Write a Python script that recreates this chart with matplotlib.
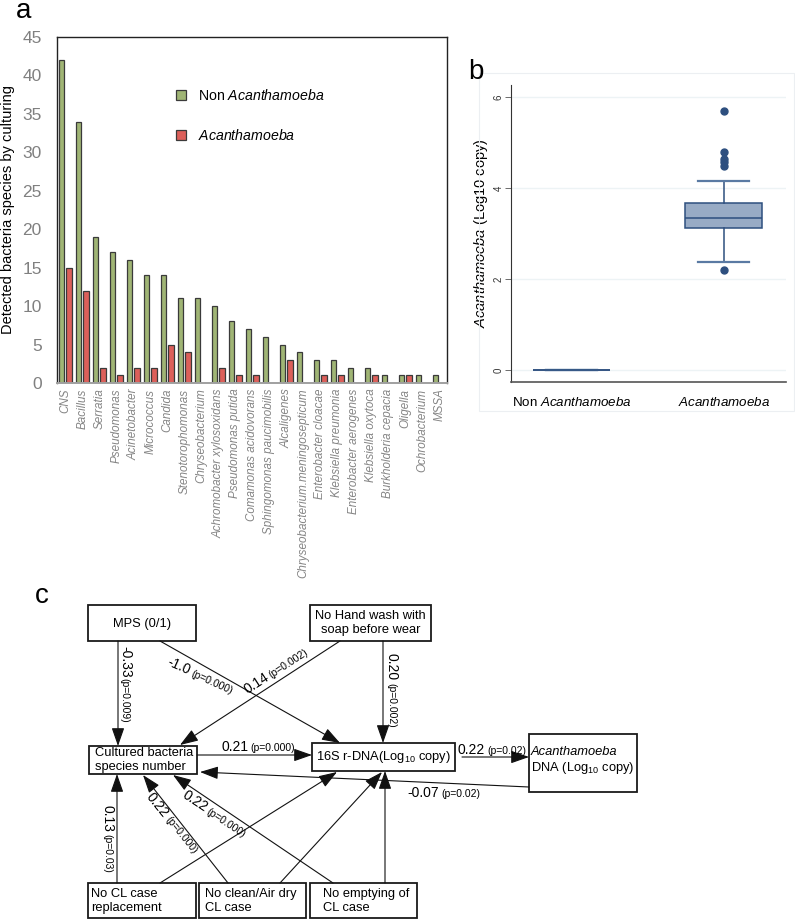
"""Three-panel figure: culture counts (a), Acanthamoeba load (b), path diagram (c)."""
import math

import matplotlib
matplotlib.use("Agg")
import matplotlib.pyplot as plt
import numpy as np
from matplotlib.lines import Line2D
from matplotlib.patches import Rectangle

plt.rcParams["font.family"] = ["Liberation Sans", "DejaVu Sans"]
plt.rcParams["mathtext.fontset"] = "custom"
plt.rcParams["mathtext.rm"] = "Liberation Sans"
plt.rcParams["mathtext.it"] = "Liberation Sans:italic"
plt.rcParams["mathtext.bf"] = "Liberation Sans:bold"

# ---- panel a data -------------------------------------------------------
species = ["CNS", "Bacillus", "Serratia", "Pseudomonas", "Acinetobacter",
           "Micrococcus", "Candida", "Stenotorophomonas", "Chryseobacterium",
           "Achromobacter xylosoxidans", "Pseudomonas putida",
           "Comamonas acidovorans", "Sphingomonas paucimobilis", "Alcaligenes",
           "Chryseobacterium.meningosepticum", "Enterobacter cloacae",
           "Klebsiella preumonia", "Enterobacter aerogenes", "Klebsiella oxytoca",
           "Burkholderia cepacia", "Oligella", "Ochrobacterium", "MSSA"]
non_acan = [42, 34, 19, 17, 16, 14, 14, 11, 11, 10, 8, 7, 6, 5, 4, 3, 3, 2, 2, 1, 1, 1, 1]
acan = [15, 12, 2, 1, 2, 2, 5, 4, 0, 2, 1, 1, 0, 3, 0, 1, 1, 0, 1, 0, 1, 0, 0]
a_yticks = [0, 5, 10, 15, 20, 25, 30, 35, 40, 45]

# ---- panel b data (box statistics, log10 copy) --------------------------
b_groups = ["Non $\\mathit{Acanthamoeba}$", "$\\mathit{Acanthamoeba}$"]
b_med = [0.0, 3.33]
b_q1 = [0.0, 3.13]
b_q3 = [0.0, 3.66]
b_whislo = [0.0, 2.38]
b_whishi = [0.0, 4.15]
b_fliers = [[], [5.70, 4.78, 4.63, 4.56, 4.49, 2.20]]
b_yticks = [0, 2, 4, 6]

# ---- panel c: path coefficients ------------------------------------------
coefs = ["-0.33", "-1.0", "0.14", "0.20", "0.21", "0.22", "-0.07", "0.13", "0.22", "0.22"]
pvals = ["(p=0.009)", "(p=0.000)", "(p=0.002)", "(p=0.002)", "(p=0.000)",
         "(p=0.02)", "(p=0.02)", "(p=0.03)", "(p=0.000)", "(p=0.000)"]

GREEN = "#a0b575"
RED = "#dc5f5a"
EDGE = "#3a3a3a"
BOXFILL = "#98abc5"
BOXEDGE = "#2d4f7f"

W, H = 795, 921
fig = plt.figure(figsize=(W / 100, H / 100), dpi=100)


def px_axes(l, t, r, b):
    return fig.add_axes([l / W, 1 - b / H, (r - l) / W, (b - t) / H])


# ======================= panel a ==========================================
axa = px_axes(57, 37, 447, 383)
x = np.arange(len(species))
non_arr = np.array(non_acan, dtype=float)
acan_arr = np.array(acan, dtype=float)
axa.bar(x - 0.22, np.where(non_arr > 0, non_arr, np.nan), width=0.335,
        color=GREEN, edgecolor=EDGE, linewidth=0.9)
axa.bar(x + 0.22, np.where(acan_arr > 0, acan_arr, np.nan), width=0.335,
        color=RED, edgecolor=EDGE, linewidth=0.9)
axa.set_xlim(-0.485, len(species) - 1 + 0.456)
axa.set_ylim(0, 45)
axa.set_yticks(a_yticks)
axa.tick_params(axis="y", length=0, pad=11, labelsize=12.5, labelcolor="#808080")
axa.set_xticks(x)
axa.set_xticklabels(species, rotation=90, fontstyle="italic", fontsize=8.4,
                    color="#858585")
axa.tick_params(axis="x", length=0, pad=4)
for side in ("top", "left", "right"):
    axa.spines[side].set_color("#222222")
    axa.spines[side].set_linewidth(1.0)
axa.spines["bottom"].set_color("#a0a0a0")
axa.spines["bottom"].set_linewidth(1.4)
axa.set_ylabel("Detected bacteria species by culturing", fontsize=10.5)
axa.yaxis.set_label_coords((15 - 57) / 390, 0.5)

handles = [Line2D([], [], marker="s", ls="none", mfc=GREEN, mec=EDGE, ms=7, mew=0.9),
           Line2D([], [], marker="s", ls="none", mfc=RED, mec=EDGE, ms=7, mew=0.9)]
axa.legend(handles, b_groups, loc="upper left", frameon=False, fontsize=10.2,
           bbox_to_anchor=((174 - 57) / 390, (383 - 88) / 346), borderpad=0,
           borderaxespad=0, handlelength=1.0, handletextpad=0.7, labelspacing=1.75)

# ======================= panel b ==========================================
fig.add_artist(Rectangle((479 / W, 1 - 411 / H), (794 - 479) / W, (411 - 73) / H,
                         transform=fig.transFigure, fill=False,
                         edgecolor="#eceff2", linewidth=0.8))
axb = px_axes(511, 85, 786, 382)
stats = []
for i in range(len(b_groups)):
    stats.append(dict(med=b_med[i], q1=b_q1[i], q3=b_q3[i], whislo=b_whislo[i],
                      whishi=b_whishi[i], fliers=b_fliers[i]))
axb.bxp(stats, positions=[0, 1], widths=0.507, capwidths=0.336, patch_artist=True,
        boxprops=dict(facecolor=BOXFILL, edgecolor=BOXEDGE, linewidth=1.1),
        medianprops=dict(color=BOXEDGE, linewidth=1.1),
        whiskerprops=dict(color=BOXEDGE, linewidth=1.1),
        capprops=dict(color="#5a7aa3", linewidth=1.6),
        flierprops=dict(marker="o", markerfacecolor=BOXEDGE, markeredgecolor=BOXEDGE,
                        markersize=5))
axb.set_xlim(-0.40, 1.41)
axb.set_ylim(-0.26, 6.26)
axb.set_yticks(b_yticks)
axb.set_yticklabels([str(v) for v in b_yticks], rotation=90, va="center")
axb.tick_params(axis="y", length=4, width=0.6, pad=1.5, labelsize=7,
                color="#555555", labelcolor="#333333")
axb.set_xticks([0, 1])
axb.set_xticklabels(b_groups, fontsize=9.6)
axb.tick_params(axis="x", length=0, pad=10)
for v in b_yticks:
    axb.axhline(v, color="#edf3f5", linewidth=1.0, zorder=0)
axb.spines["top"].set_visible(False)
axb.spines["right"].set_visible(False)
axb.spines["left"].set_color("#333333")
axb.spines["bottom"].set_color("#555555")
axb.spines["bottom"].set_linewidth(1.2)
axb.set_ylabel("$\\mathit{Acanthamoeba}$ (Log10 copy)", fontsize=10.5)
axb.yaxis.set_label_coords((490 - 511) / 275, 0.5)

# ======================= panel c ==========================================
axc = px_axes(0, 580, 795, 921)
axc.set_xlim(0, W)
axc.set_ylim(921, 580)
axc.axis("off")

box_fs = 9.3
boxes = {
    "mps": (88, 605, 196, 641),
    "hand": (310, 605, 431, 641),
    "cult": (89, 746, 197, 774),
    "rdna": (312, 743, 455, 771),
    "acan": (529, 734, 637, 792),
    "repl": (88, 883, 196, 918),
    "dry": (199, 883, 306, 918),
    "empty": (310, 883, 417, 918),
}
for l, t, r, b in boxes.values():
    axc.add_patch(Rectangle((l, t), r - l, b - t, fill=False, edgecolor="#1a1a1a",
                            linewidth=1.3))

axc.text(142, 624, "MPS (0/1)", ha="center", va="center", fontsize=box_fs)
axc.text(370.5, 623, "No Hand wash with\nsoap before wear", ha="center",
         va="center", fontsize=box_fs)
axc.text(95, 760, "Cultured bacteria\nspecies number", ha="left", va="center",
         fontsize=box_fs)
axc.text(383.5, 757, "16S r-DNA(Log$_{10}$ copy)", ha="center", va="center",
         fontsize=box_fs)
axc.text(531, 752, "Acanthamoeba", ha="left", va="center", fontsize=box_fs,
         fontstyle="italic")
axc.text(531, 768, "DNA (Log$_{10}$ copy)", ha="left", va="center", fontsize=box_fs)
axc.text(91, 901, "No CL case\nreplacement", ha="left", va="center", fontsize=box_fs)
axc.text(205, 901, "No clean/Air dry\nCL case", ha="left", va="center",
         fontsize=box_fs)
axc.text(323, 901, "No emptying of\nCL case", ha="left", va="center",
         fontsize=box_fs)

arrows = [((118, 641), (118, 746)),
          ((160, 641), (340, 743)),
          ((340, 641), (180, 745)),
          ((383, 641), (383, 743)),
          ((197, 755), (312, 755)),
          ((462, 757), (529, 757)),
          ((529, 787), (200, 772)),
          ((117, 883), (117, 774)),
          ((160, 883), (337, 772)),
          ((228, 883), (143, 775)),
          ((280, 883), (382, 772)),
          ((333, 883), (173, 775)),
          ((385, 883), (385, 771))]
for start, end in arrows:
    axc.annotate("", xy=end, xytext=start,
                 arrowprops=dict(arrowstyle="-|>,head_length=0.8,head_width=0.28",
                                 mutation_scale=14, color="#111111", lw=0.8,
                                 shrinkA=0, shrinkB=0))

renderer = fig.canvas.get_renderer()


def text_width(s, fs):
    t = axc.text(0, 0, s, fontsize=fs)
    w = t.get_window_extent(renderer).width
    t.remove()
    return w


def path_label(x0, y0, angle, coef, pval, gap=2.5, big=10, small=7.5):
    axc.text(x0, y0, coef, rotation=angle, rotation_mode="anchor", ha="left",
             va="baseline", fontsize=big)
    d = text_width(coef, big) + gap
    rad = math.radians(angle)
    axc.text(x0 + d * math.cos(rad), y0 - d * math.sin(rad), pval, rotation=angle,
             rotation_mode="anchor", ha="left", va="baseline", fontsize=small)


label_spots = [(121, 646, -90),
               (166, 665, -24),
               (247, 694, 33),
               (388, 653, -90),
               (221, 751, 0),
               (458, 754, 0),
               (407, 797, 0),
               (104, 805, -90),
               (146, 797, -51),
               (181, 797, -33.5)]
for (lx, ly, ang), c, p in zip(label_spots, coefs, pvals):
    gap = 0.5 if c == "-0.33" else 2.5
    path_label(lx, ly, ang, c, p, gap=gap)

# ---- panel letters ---------------------------------------------------------
fig.text(16 / W, 1 - 18 / H, "a", fontsize=20, ha="left", va="baseline")
fig.text(468 / W, 1 - 79 / H, "b", fontsize=20, ha="left", va="baseline")
fig.text(35 / W, 1 - 603 / H, "c", fontsize=20, ha="left", va="baseline")

fig.savefig("out.png", dpi=100)
